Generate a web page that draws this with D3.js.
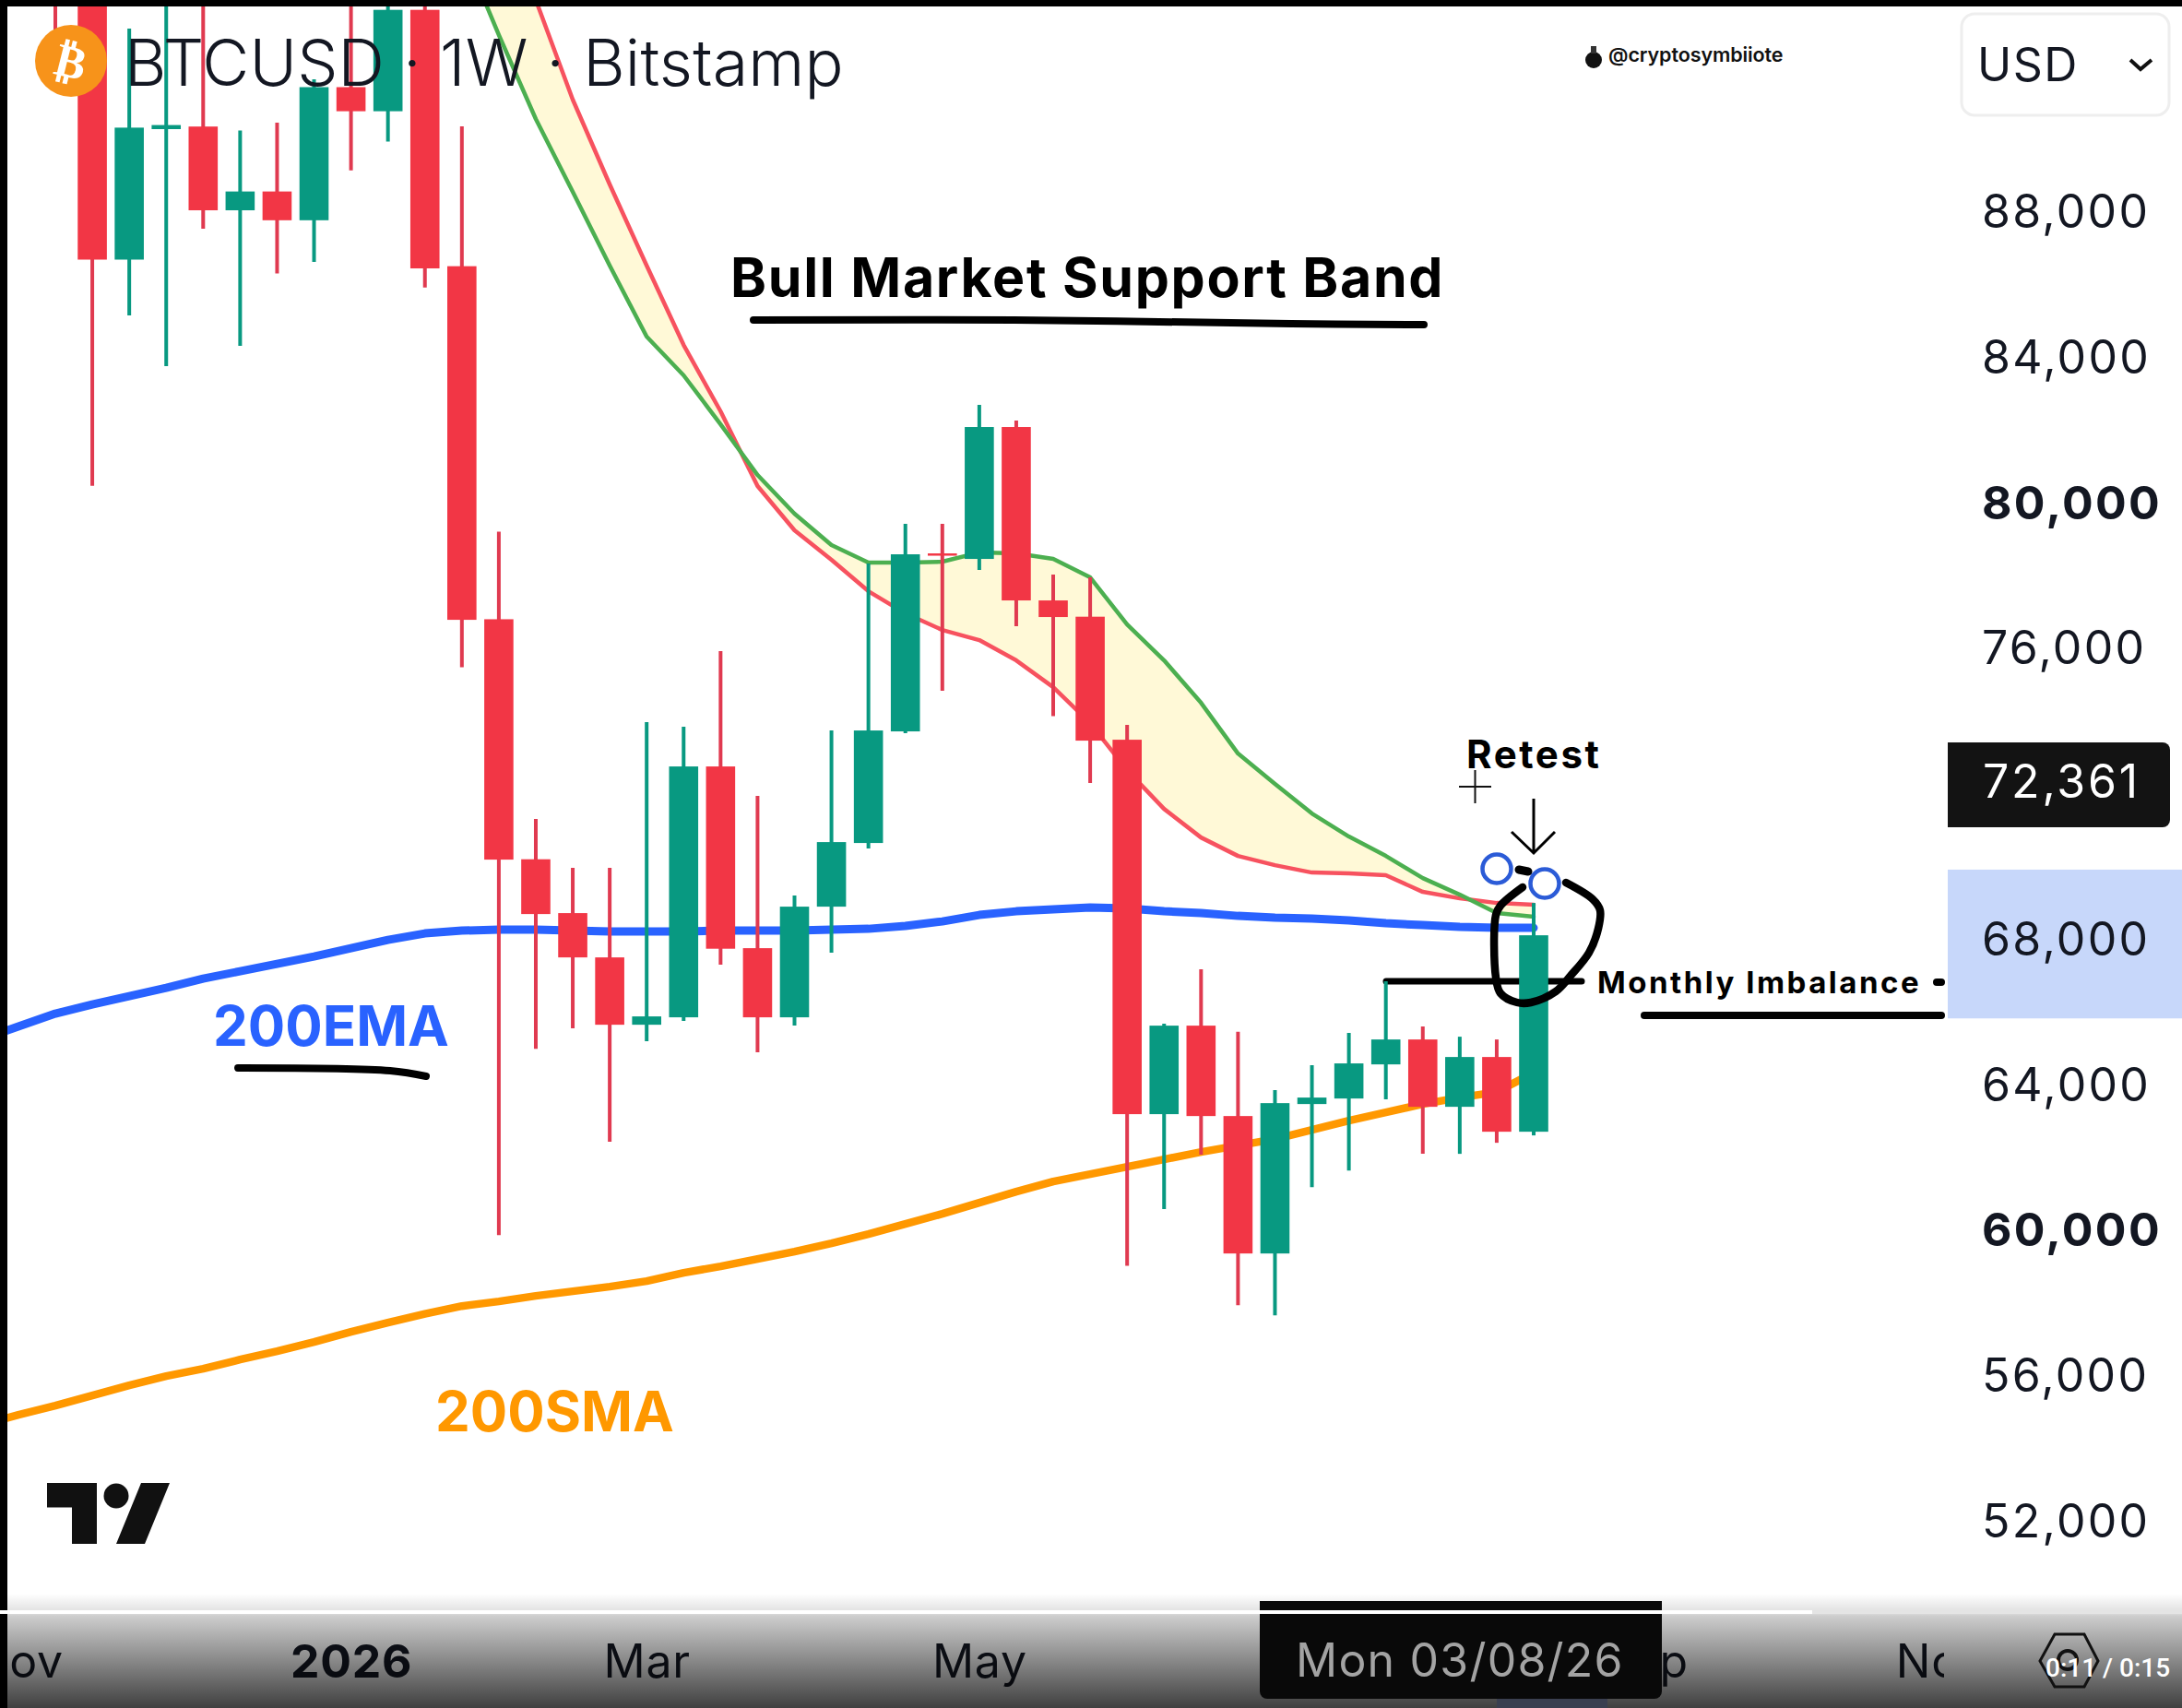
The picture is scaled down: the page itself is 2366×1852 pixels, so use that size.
<!DOCTYPE html>
<html>
<head>
<meta charset="utf-8">
<script src="https://cdn.jsdelivr.net/npm/d3@7"></script>
<style>
  body { margin: 0; background: #fff; }
  svg { display: block; }
  text { font-family: Inter, Roboto, sans-serif; }
</style>
</head>
<body>
<div id="wrapper"></div>
<script>
// weekly bars, first two weeks only carry the moving averages
const weeks = ["2025-10-27","2025-11-03","2025-11-10","2025-11-17","2025-11-24","2025-12-01","2025-12-08","2025-12-15","2025-12-22","2025-12-29",
  "2026-01-05","2026-01-12","2026-01-19","2026-01-26","2026-02-02","2026-02-09","2026-02-16","2026-02-23","2026-03-02","2026-03-09",
  "2026-03-16","2026-03-23","2026-03-30","2026-04-06","2026-04-13","2026-04-20","2026-04-27","2026-05-04","2026-05-11","2026-05-18",
  "2026-05-25","2026-06-01","2026-06-08","2026-06-15","2026-06-22","2026-06-29","2026-07-06","2026-07-13","2026-07-20","2026-07-27",
  "2026-08-03","2026-08-10","2026-08-17"];

const opens = [96500,94800,86669,90256,90327,88025,88542,87751,91410,90748,93535,86488,76783,70185,68705,67487,65636,65840,72736,67741,65840,68882,70632,73700,78593,78441,82067,77300,76853,73471,63178,65611,63126,59348,63456,63608,64546,65231,63380,64749,62695];
const highs = [97500,95500,93020,94500,94500,90216,90434,91625,94500,94200,93700,90332,79189,71291,69947,69947,73953,73826,75905,71925,69186,73725,78314,79404,79404,82675,82244,78010,77934,73877,65662,67158,65441,63837,64521,65409,66828,65586,65307,65231,68983];
const lows = [92538,80452,85135,83740,87518,84298,86286,86605,89123,89917,85905,75462,59855,64977,65535,62417,65180,65738,67285,64876,65611,67614,70479,73649,74815,78137,76590,74118,72279,59007,60566,62062,57928,57650,61174,61630,63583,62087,62087,62391,62594];
const closes = [94800,86669,90297,90368,88025,88542,87751,91410,90748,93535,86428,76767,70175,68679,67487,65636,65865,72736,67726,65840,68882,70657,73725,78568,78530,82067,77300,76844,73446,63178,65611,63126,59348,63481,63634,64573,65231,63380,64749,62695,68095];

// bull market support band, null until it comes into the picture
const bandGreen = [null,null,null,null,null,null,null,null,null,null,null,null,null,95277,92843,90535,88532,86504,84551,83487,82143,80748,79683,78821,78339,78339,78365,78618,78593,78441,77934,76641,75652,74485,73091,72254,71443,70809,70276,69668,69212,68705,68603];
const bandRed = [null,null,null,null,null,null,null,null,null,null,null,null,null,98623,96215,93806,91068,88735,86504,84323,82498,80444,79227,78415,77553,76945,76488,76209,75652,74917,73927,72634,71569,70783,70276,70023,69820,69795,69745,69288,69110,68983,68933];
const ema200 = [65231,65586,65941,66194,66423,66651,66904,67107,67310,67513,67741,67969,68147,68223,68248,68248,68223,68197,68197,68197,68223,68223,68223,68248,68273,68350,68476,68654,68755,68806,68857,68831,68755,68705,68628,68578,68553,68502,68426,68375,68324,68299,68299];
const sma200 = [54632,54911,55165,55444,55723,55976,56179,56432,56661,56914,57193,57447,57687,57903,58030,58182,58309,58436,58588,58816,58994,59196,59399,59627,59881,60160,60439,60743,61048,61326,61529,61732,61935,62138,62315,62493,62747,63000,63228,63456,63634,63786,64318];

const priceTicks = [88000,84000,80000,76000,68000,64000,60000,56000,52000];
const boldTicks = [80000,60000];
const timeTicks = ["2025-11-03","2026-01-05","2026-03-02","2026-05-04","2026-09-07","2026-11-02"];
const timeLabels = ["Nov","2026","Mar","May","Sep","Nov"];
const crossPrice = 72361;
const crossDate = "2026-08-03";
const imbalance = [69900,65810];

const width = 2366, height = 1852;
const parseDate = d3.utcParse("%Y-%m-%d");
const fmtPrice = d3.format(",");

const svg = d3.select("#wrapper").append("svg")
  .attr("width", width)
  .attr("height", height);

const x = d3.scaleUtc()
  .domain([parseDate("2025-11-10"), parseDate("2026-08-17")])
  .range([60, 1663]);

const y = d3.scaleLinear()
  .domain([88000, 52000])
  .range([229, 1649]);

const candleWeeks = weeks.slice(2);
const candles = candleWeeks.map((w, i) => ({
  date: parseDate(w), open: opens[i], high: highs[i], low: lows[i], close: closes[i]
}));
const up = "#089981", down = "#F23645";

// band fill
const bandData = weeks.map((w, i) => ({ date: parseDate(w), green: bandGreen[i], red: bandRed[i] }))
  .filter(d => d.green !== null);

svg.append("path")
  .datum(bandData)
  .attr("fill", "#FFF9D7")
  .attr("d", d3.area()
    .x(d => x(d.date))
    .y0(d => y(d.red))
    .y1(d => y(d.green)));

const lineOf = (vals) => weeks.map((w, i) => ({ date: parseDate(w), value: vals[i] })).filter(d => d.value !== null);
const priceLine = d3.line().x(d => x(d.date)).y(d => y(d.value));

function addLine(vals, color, w) {
  svg.append("path")
    .datum(lineOf(vals))
    .attr("fill", "none")
    .attr("stroke", color)
    .attr("stroke-width", w)
    .attr("stroke-linecap", "round")
    .attr("stroke-linejoin", "round")
    .attr("d", priceLine);
}
addLine(sma200, "#FF9800", 8.5);
addLine(ema200, "#2962FF", 9);
addLine(bandRed, "#F7525F", 4.5);
addLine(bandGreen, "#4CAF50", 4.5);

// monthly imbalance level, sits behind the candles
svg.append("line")
  .attr("x1", 1503).attr("x2", 1715)
  .attr("y1", 1064).attr("y2", 1064)
  .attr("stroke", "#000").attr("stroke-width", 7).attr("stroke-linecap", "round");

// wicks
svg.append("g").selectAll("line")
  .data(candles)
  .join("line")
    .attr("x1", d => x(d.date))
    .attr("x2", d => x(d.date))
    .attr("y1", d => y(d.high))
    .attr("y2", d => y(d.low))
    .attr("stroke", d => d.close >= d.open ? up : "#E03A50")
    .attr("stroke-width", 4);

// bodies
svg.append("g").selectAll("rect")
  .data(candles)
  .join("rect")
    .attr("x", d => x(d.date) - 15.8)
    .attr("width", 31.6)
    .attr("y", d => y(Math.max(d.open, d.close)))
    .attr("height", d => Math.abs(y(d.open) - y(d.close)))
    .attr("fill", d => d.close >= d.open ? up : down);

// hand drawn notes
const hand = d3.line().curve(d3.curveCatmullRom);
function stroke(points, w) {
  svg.append("path")
    .attr("d", hand(points))
    .attr("fill", "none")
    .attr("stroke", "#000")
    .attr("stroke-width", w)
    .attr("stroke-linecap", "round")
    .attr("stroke-linejoin", "round");
}
stroke([[817,347],[1100,347],[1400,351],[1544,352]], 8);
stroke([[258,1158],[423,1161],[462,1167]], 8);
stroke([[1783,1101],[2105,1101]], 8);
stroke([[2100,1065],[2105,1065]], 8);
stroke([[1647,943],[1657,945]], 9);
stroke([[1651,962],[1627,982],[1622,992],[1622,1060],[1627,1077],[1645,1087],[1660,1087],[1687,1075],[1703,1058],[1723,1033],[1733,1007],[1735,987],[1727,975],[1698,957]], 8.5);

// retest arrow
svg.append("path")
  .attr("d", "M1663,866V925M1639,902L1663,925L1686,902")
  .attr("fill", "none").attr("stroke", "#000").attr("stroke-width", 3);

// cursor
svg.append("path")
  .attr("d", "M1582,853H1617M1599.5,835V871")
  .attr("fill", "none").attr("stroke", "#111").attr("stroke-width", 2);

svg.selectAll(".touch")
  .data([[1623,942],[1675,958]])
  .join("circle")
    .attr("class", "touch")
    .attr("cx", d => d[0]).attr("cy", d => d[1]).attr("r", 15.5)
    .attr("fill", "#fff").attr("stroke", "#2B5BD7").attr("stroke-width", 4.5);

// labels on the chart
function label(txt, px, py, size, weight, color, spacing) {
  return svg.append("text")
    .attr("x", px).attr("y", py)
    .attr("font-size", size)
    .attr("font-weight", weight)
    .attr("fill", color)
    .attr("letter-spacing", spacing || 0)
    .text(txt);
}
label("Bull Market Support Band", 792, 322, 59, 700, "#000", 1.7);
label("Retest", 1590, 833, 42, 700, "#000", 2.6);
label("Monthly Imbalance", 1732, 1077, 33, 700, "#000", 2.5);
label("200EMA", 231, 1134, 60, 700, "#2962FF");
label("200SMA", 472, 1552, 60, 700, "#FF9800");

// price axis, highlight first then the labels
svg.append("rect")
  .attr("x", 2112).attr("width", width - 2112)
  .attr("y", y(imbalance[0]))
  .attr("height", y(imbalance[1]) - y(imbalance[0]))
  .attr("fill", "#C7D7FA");

const yAxis = svg.append("g")
  .attr("transform", "translate(2149,1.5)")
  .call(d3.axisRight(y).tickValues(priceTicks).tickSize(0).tickPadding(0).tickFormat(fmtPrice));
yAxis.select(".domain").remove();
yAxis.selectAll("text")
  .attr("font-size", 50)
  .attr("font-family", "Inter")
  .attr("letter-spacing", 2.3)
  .attr("fill", "#131722")
  .attr("font-weight", d => boldTicks.includes(d) ? 700 : 400);

// crosshair price
svg.append("path")
  .attr("d", `M2112,805H2345a8,8 0 0 1 8,8V889a8,8 0 0 1 -8,8H2112Z`)
  .attr("fill", "#131313");
svg.append("text")
  .attr("x", 2150).attr("y", y(crossPrice) + 1.5)
  .attr("dy", ".36em")
  .attr("font-size", 50)
  .attr("letter-spacing", 2.8)
  .attr("fill", "#fff")
  .text(fmtPrice(crossPrice));

// time axis
const clip = svg.append("defs").append("clipPath").attr("id", "timeClip");
clip.append("rect").attr("x", 8).attr("y", 1700).attr("width", 2100).attr("height", 152);

const xAxis = svg.append("g")
  .attr("clip-path", "url(#timeClip)")
  .append("g")
  .attr("transform", "translate(0,1783)")
  .call(d3.axisBottom(x)
    .tickValues(timeTicks.map(parseDate))
    .tickSize(0).tickPadding(0)
    .tickFormat((d, i) => timeLabels[i]));
xAxis.select(".domain").remove();
xAxis.selectAll("text")
  .attr("font-size", 50)
  .attr("font-family", "Inter")
  .attr("letter-spacing", 0.8)
  .attr("fill", "#131722")
  .attr("font-weight", (d, i) => timeLabels[i] === "2026" ? 700 : 400);

// top left symbol
svg.append("circle").attr("cx", 77).attr("cy", 66).attr("r", 39).attr("fill", "#F7931A");
svg.append("text")
  .attr("transform", "translate(77,66) rotate(14)")
  .attr("text-anchor", "middle")
  .attr("dy", ".36em")
  .attr("font-size", 50)
  .attr("font-weight", 700)
  .attr("fill", "#fff")
  .style("font-family", "DejaVu Sans")
  .text("\u20BF");
label("BTCUSD \u00B7 1W \u00B7 Bitstamp", 135, 93, 70, 300, "#131722", 0.2);

// handle
svg.append("circle").attr("cx", 1728).attr("cy", 65).attr("r", 9).attr("fill", "#111");
svg.append("rect").attr("x", 1725).attr("y", 50).attr("width", 6).attr("height", 8).attr("fill", "#333");
label("@cryptosymbiiote", 1744, 67, 21.5, 600, "#111", -0.1);

// currency box
svg.append("rect")
  .attr("x", 2127).attr("y", 15).attr("width", 225).attr("height", 110).attr("rx", 14)
  .attr("fill", "#fff").attr("stroke", "#EEEEEE").attr("stroke-width", 3);
label("USD", 2144, 88, 50, 400, "#131722", 1.5);
svg.append("path")
  .attr("d", "M2310,65L2321,75L2333,65")
  .attr("fill", "none").attr("stroke", "#111").attr("stroke-width", 4);

// tradingview mark
svg.append("path")
  .attr("d", "M51,1608H105V1674H78V1634.5H51Z M153,1608H184L157,1674H126Z")
  .attr("fill", "#111");
svg.append("circle").attr("cx", 126).attr("cy", 1622).attr("r", 13.5).attr("fill", "#111");

// video player overlay
const grad = svg.select("defs").append("linearGradient")
  .attr("id", "fade").attr("x1", 0).attr("y1", 0).attr("x2", 0).attr("y2", 1);
grad.append("stop").attr("offset", 0).attr("stop-color", "#000").attr("stop-opacity", 0);
grad.append("stop").attr("offset", 0.16).attr("stop-color", "#000").attr("stop-opacity", 0.12);
grad.append("stop").attr("offset", 0.2).attr("stop-color", "#000").attr("stop-opacity", 0.2);
grad.append("stop").attr("offset", 1).attr("stop-color", "#000").attr("stop-opacity", 0.75);
svg.append("rect").attr("x", 0).attr("y", 1728).attr("width", width).attr("height", 124).attr("fill", "url(#fade)");

// date box
svg.append("rect")
  .attr("x", 1623).attr("y", 1842).attr("width", 120).attr("height", 10).attr("fill", "#3A3F50");
svg.append("path")
  .attr("d", "M1366,1736H1802V1834a8,8 0 0 1 -8,8H1374a8,8 0 0 1 -8,-8Z")
  .attr("fill", "#090909");
svg.append("text")
  .attr("x", x(parseDate(crossDate))).attr("y", 1818)
  .attr("text-anchor", "middle")
  .attr("font-size", 50)
  .attr("letter-spacing", 1.2)
  .attr("fill", "#A3A3A3")
  .text("Mon 03/08/26");

// settings hexagon
svg.append("path")
  .attr("d", "M2228,1772H2260L2275,1801L2260,1829H2228L2212,1801Z")
  .attr("fill", "none").attr("stroke", "#111").attr("stroke-width", 3);
svg.append("circle").attr("cx", 2242).attr("cy", 1800).attr("r", 10)
  .attr("fill", "none").attr("stroke", "#111").attr("stroke-width", 4);

svg.append("rect").attr("x", 0).attr("y", 0).attr("width", 8).attr("height", height).attr("fill", "#000");
svg.append("rect").attr("x", 0).attr("y", 0).attr("width", width).attr("height", 7).attr("fill", "#000");

// progress bar
svg.append("rect").attr("x", 0).attr("y", 1746).attr("width", width).attr("height", 4).attr("fill", "#E4E4E4");
svg.append("rect").attr("x", 0).attr("y", 1746).attr("width", 1965).attr("height", 4).attr("fill", "#fff");
label("0:11 / 0:15", 2218, 1818, 28, 500, "#fff").style("font-family", "Roboto");
</script>
</body>
</html>
